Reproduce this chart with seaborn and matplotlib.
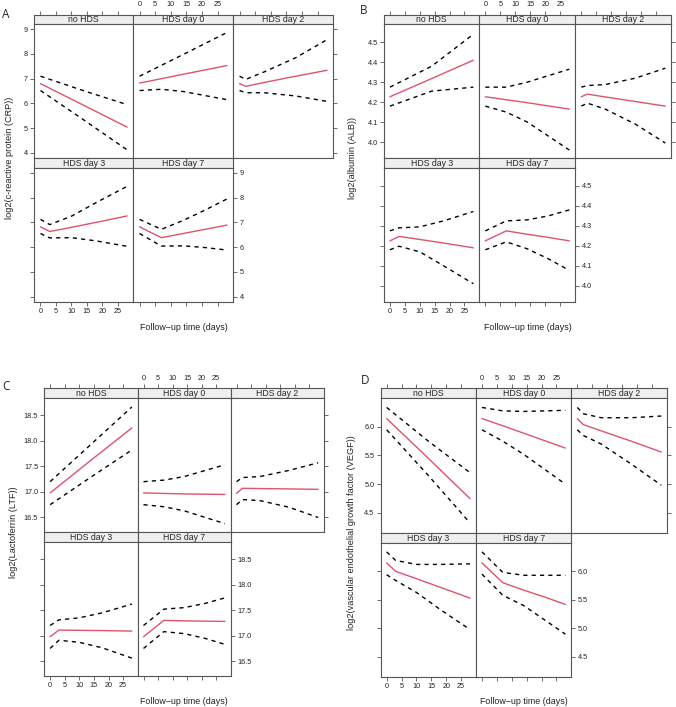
import numpy as np
import pandas as pd
import matplotlib
matplotlib.use("Agg")
import matplotlib.pyplot as plt
import seaborn as sns

# panels and the days each curve is read at
groups = ["no HDS", "HDS day 0", "HDS day 2", "HDS day 3", "HDS day 7"]
days = [[0, 14, 28], [0, 7, 14, 28], [0, 2, 8, 18, 28], [0, 3, 10, 18, 28], [0, 7, 14, 21, 28]]

# A: CRP
crp_fit = [[6.80, 5.92, 5.04], [6.82, 7.00, 7.18, 7.53], [6.80, 6.69, 6.85, 7.10, 7.34],
           [6.82, 6.63, 6.80, 7.00, 7.26], [6.82, 6.38, 6.55, 6.72, 6.89]]
crp_lo = [[6.52, 5.33, 4.12], [6.52, 6.57, 6.48, 6.15], [6.52, 6.43, 6.43, 6.30, 6.08],
          [6.55, 6.37, 6.38, 6.25, 6.03], [6.55, 6.04, 6.05, 5.98, 5.88]]
crp_hi = [[7.10, 6.51, 5.95], [7.10, 7.54, 7.98, 8.87], [7.10, 6.97, 7.28, 7.85, 8.58],
          [7.12, 6.91, 7.25, 7.80, 8.46], [7.12, 6.72, 7.08, 7.50, 7.95]]

# B: ALB
alb_fit = [[4.227, 4.318, 4.41], [4.227, 4.212, 4.197, 4.165], [4.227, 4.24, 4.226, 4.203, 4.18],
           [4.225, 4.247, 4.232, 4.214, 4.19], [4.225, 4.275, 4.258, 4.242, 4.225]]
alb_lo = [[4.18, 4.255, 4.275], [4.18, 4.15, 4.10, 3.96], [4.18, 4.195, 4.165, 4.09, 3.995],
          [4.18, 4.198, 4.17, 4.10, 4.01], [4.18, 4.22, 4.185, 4.135, 4.077]]
alb_hi = [[4.275, 4.38, 4.54], [4.275, 4.275, 4.30, 4.365], [4.275, 4.283, 4.288, 4.32, 4.37],
          [4.275, 4.29, 4.295, 4.325, 4.372], [4.275, 4.325, 4.33, 4.35, 4.38]]

# C: LTF
ltf_fit = [[16.98, 17.62, 18.25], [16.98, 16.97, 16.96, 16.95], [16.97, 17.07, 17.065, 17.058, 17.05],
           [16.98, 17.11, 17.105, 17.10, 17.09], [16.98, 17.30, 17.29, 17.285, 17.28]]
ltf_lo = [[16.75, 17.29, 17.82], [16.75, 16.71, 16.63, 16.38], [16.75, 16.85, 16.83, 16.70, 16.50],
          [16.75, 16.91, 16.87, 16.76, 16.56], [16.75, 17.08, 17.04, 16.95, 16.83]]
ltf_hi = [[17.20, 17.93, 18.66], [17.20, 17.23, 17.30, 17.53], [17.20, 17.28, 17.30, 17.42, 17.57],
          [17.20, 17.31, 17.35, 17.45, 17.62], [17.20, 17.52, 17.55, 17.63, 17.74]]

# D: VEGF
vegf_fit = [[6.146, 5.45, 4.745], [6.146, 6.02, 5.89, 5.63], [6.146, 6.04, 5.93, 5.75, 5.56],
            [6.146, 6.00, 5.87, 5.72, 5.53], [6.146, 5.80, 5.67, 5.55, 5.42]]
vegf_lo = [[5.95, 5.15, 4.32], [5.95, 5.75, 5.52, 5.00], [5.95, 5.85, 5.70, 5.35, 4.98],
           [5.94, 5.84, 5.63, 5.33, 4.98], [5.95, 5.58, 5.40, 5.15, 4.90]]
vegf_hi = [[6.34, 5.75, 5.20], [6.34, 6.28, 6.27, 6.29], [6.34, 6.23, 6.16, 6.16, 6.19],
           [6.34, 6.19, 6.12, 6.12, 6.13], [6.34, 5.98, 5.93, 5.93, 5.93]]

xticks = [0, 5, 10, 15, 20, 25]

W, H = 676, 707
sns.set_theme(style="white")
plt.rcParams["font.family"] = ["Liberation Sans", "DejaVu Sans"]

fig = plt.figure(figsize=(W / 100, H / 100), dpi=100)

RED = "#DF536B"
EDGE = "#555555"
pal = {"fit": RED, "lower": "black", "upper": "black"}
dash = {"fit": "", "lower": (3.0, 3.0), "upper": (3.0, 3.0)}


def add_ax(l, t, r, b):
    return fig.add_axes([l / W, 1 - b / H, (r - l) / W, (b - t) / H])


def long_df(fit, lo, hi):
    rows = []
    for g, t, f, a, b in zip(groups, days, fit, lo, hi):
        for kind, vals in (("fit", f), ("lower", a), ("upper", b)):
            for x, v in zip(t, vals):
                rows.append({"group": g, "day": x, "value": v, "kind": kind})
    return pd.DataFrame(rows)


def style_spines(ax):
    for s in ax.spines.values():
        s.set_color(EDGE)
        s.set_linewidth(0.8)
    ax.tick_params(length=3, width=0.6, color=EDGE, labelsize=5.2, pad=1.5,
                   labelcolor="#222222", direction="out")


def draw_block(letter, ylab, fit, lo, hi, ylim, yticks, fmt, cols, rows_px, lpos):
    df = long_df(fit, lo, hi)
    s_top, s_bot, r1_bot, s2_bot, r2_bot = rows_px
    for i, g in enumerate(groups):
        r, c = divmod(i, 3)
        l, rr = cols[c], cols[c + 1]
        if r == 0:
            st, sb, pb = s_top, s_bot, r1_bot
        else:
            st, sb, pb = r1_bot, s2_bot, r2_bot

        sax = add_ax(l, st, rr, sb)
        sax.set_facecolor("#EFEFEF")
        sax.set_xlim(-2, 30)
        sax.set_ylim(0, 1)
        sax.set_yticks([])
        sax.text(14, 0.45, g, ha="center", va="center", fontsize=6.3)
        style_spines(sax)
        sax.set_xticks(xticks)
        sax.set_xticklabels([str(v) for v in xticks])
        sax.tick_params(axis="x", bottom=False, labelbottom=False,
                        top=(r == 0), labeltop=(r == 0 and c == 1))

        ax = add_ax(l, sb, rr, pb)
        sub = df[df["group"] == g]
        sns.lineplot(data=sub, x="day", y="value", hue="kind", style="kind",
                     palette=pal, dashes=dash, legend=False, ax=ax,
                     linewidth=1.0, estimator=None)
        ax.set_xlim(-2, 30)
        ax.set_ylim(*ylim)
        ax.set_xlabel("")
        ax.set_ylabel("")
        ax.set_xticks(xticks)
        ax.set_yticks(yticks)
        ax.set_yticklabels([fmt.format(v) for v in yticks])
        style_spines(ax)
        ax.tick_params(axis="x", top=False, labeltop=False,
                       bottom=(r == 1), labelbottom=(r == 1 and c == 0))
        right = (r == 0 and c == 2) or (r == 1 and c == 1)
        ax.tick_params(axis="y", left=(c == 0), labelleft=(c == 0 and r == 0),
                       right=right, labelright=(r == 1 and c == 1))

    cx = (cols[0] + cols[3]) / 2
    cy = (s_top + r2_bot) / 2
    fig.text(lpos[0] / W, 1 - cy / H, ylab, rotation=90, ha="center", va="center",
             fontsize=6.6, color="#222222")
    fig.text(cx / W, 1 - lpos[1] / H, "Follow\u2212up time (days)", ha="center",
             va="center", fontsize=6.4, color="#222222")
    fig.text(lpos[2] / W, 1 - lpos[3] / H, letter, ha="center", va="center",
             fontsize=8.5, family=["Open Sans", "DejaVu Sans"])


draw_block("A", "log2(c-reactive protein (CRP))", crp_fit, crp_lo, crp_hi,
           (3.79, 9.2), [4, 5, 6, 7, 8, 9], "{:.0f}",
           [34.3, 133.3, 233.3, 333.3], [14.7, 24.3, 158, 168, 301.7], (10, 327, 6, 15))
draw_block("B", "log2(albumin (ALB))", alb_fit, alb_lo, alb_hi,
           (3.92, 4.59), [4.0, 4.1, 4.2, 4.3, 4.4, 4.5], "{:.1f}",
           [384, 479.3, 575.3, 671.3], [14.7, 24.3, 158, 168, 301.7], (353, 327, 364, 11))
draw_block("C", "log2(Lactoferrin (LTF))", ltf_fit, ltf_lo, ltf_hi,
           (16.21, 18.83), [16.5, 17.0, 17.5, 18.0, 18.5], "{:.1f}",
           [44.3, 137.7, 230.7, 324], [388.3, 398.3, 532.3, 542.3, 676], (14, 701, 6, 386))
draw_block("D", "log2(vascular endothelial growth factor (VEGF))", vegf_fit, vegf_lo, vegf_hi,
           (4.15, 6.5), [4.5, 5.0, 5.5, 6.0], "{:.1f}",
           [380.7, 476, 571.3, 667.3], [388.3, 398.3, 532.7, 542.7, 677], (351, 702, 365, 380))

fig.savefig("out.png", dpi=100, facecolor="white")
